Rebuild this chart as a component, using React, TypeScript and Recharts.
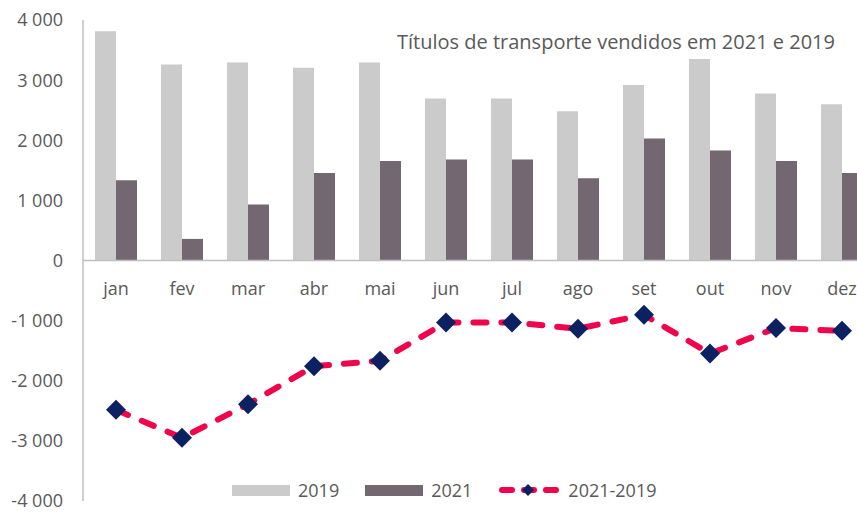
import React from "react";
import {
  ComposedChart,
  Bar,
  Line,
  XAxis,
  YAxis,
  ReferenceLine,
  Legend,
} from "recharts";

const months = ["jan", "fev", "mar", "abr", "mai", "jun", "jul", "ago", "set", "out", "nov", "dez"];
const sales2019 = [3813, 3261, 3294, 3207, 3294, 2694, 2694, 2484, 2920, 3350, 2777, 2600];
const sales2021 = [1334, 359, 931, 1455, 1653, 1681, 1681, 1367, 2028, 1830, 1653, 1455];
const diff = [-2484, -2950, -2390, -1757, -1669, -1030, -1030, -1135, -904, -1548, -1124, -1170];
const yTicks = [-4000, -3000, -2000, -1000, 0, 1000, 2000, 3000, 4000];

const data = months.map((m, i) => ({
  month: m,
  y2019: sales2019[i],
  y2021: sales2021[i],
  diff: diff[i],
}));

const TEXT = "#595959";
const FONT = "'Open Sans', sans-serif";
const TOP = 20;
const BOTTOM = 11;
const XH = 1;
const H = 513;
const zeroY = (TOP + (H - BOTTOM - XH)) / 2;

const fmt = (v: number) => {
  const s = Math.abs(v).toString();
  const body = s.length > 3 ? s.slice(0, -3) + " " + s.slice(-3) : s;
  return (v < 0 ? "-" : "") + body;
};

// month labels sit under the zero line, not at the bottom of the plot
const MonthTick = (props: any) => {
  const { x, payload } = props;
  return (
    <text x={x} y={zeroY + 28} dy="0.355em" textAnchor="middle" fill={TEXT} fontSize={18} fontFamily={FONT}>
      {payload.value}
    </text>
  );
};

const Diamond = (props: any) => {
  const { cx, cy } = props;
  if (cx == null || cy == null) return null;
  const r = 10;
  return <polygon points={`${cx},${cy - r} ${cx + r},${cy} ${cx},${cy + r} ${cx - r},${cy}`} fill="#0B2161" />;
};

const LegendContent = (props: any) => {
  const items = props.payload || [];
  return (
    <div style={{ display: "flex", alignItems: "center", fontFamily: FONT, fontSize: 18, color: TEXT }}>
      {items.map((it: any) => {
        if (it.type === "line") {
          return (
            <div key={it.value} style={{ display: "flex", alignItems: "center" }}>
              <svg width={68} height={14}>
                <line x1={4} y1={7} x2={62} y2={7} stroke="#F0054D" strokeWidth={6} strokeLinecap="round" strokeDasharray="10 12" />
                <polygon points="30,1 36,7 30,13 24,7" fill="#0B2161" />
              </svg>
              <span style={{ marginLeft: 2 }}>{it.value}</span>
            </div>
          );
        }
        return (
          <div key={it.value} style={{ display: "flex", alignItems: "center", marginRight: 26 }}>
            <div style={{ width: 58, height: 11, background: it.color }} />
            <span style={{ marginLeft: 8 }}>{it.value}</span>
          </div>
        );
      })}
    </div>
  );
};

export default function App() {
  return (
    <div style={{ position: "absolute", left: 0, top: 0, width: 857, height: 513, overflow: "hidden", background: "#fff" }}>
      <ComposedChart
        width={900}
        height={H}
        data={data}
        margin={{ top: TOP, right: 25, bottom: BOTTOM, left: 0 }}
        barGap={0}
        barSize={21}
      >
        <XAxis dataKey="month" height={XH} axisLine={false} tickLine={false} tick={<MonthTick />} interval={0} />
        <YAxis
          domain={[-4000, 4000]}
          ticks={yTicks}
          interval={0}
          width={83}
          tickFormatter={fmt}
          axisLine={{ stroke: "#BFBFBF", strokeWidth: 1.5 }}
          tickLine={false}
          tickSize={0}
          tickMargin={20}
          tick={{ fill: TEXT, fontSize: 18, fontFamily: FONT }}
        />
        <ReferenceLine y={0} stroke="#BFBFBF" strokeWidth={1.5} />
        <Bar dataKey="y2019" name="2019" fill="#CBCBCB" isAnimationActive={false} />
        <Bar dataKey="y2021" name="2021" fill="#736772" isAnimationActive={false} />
        <Line
          dataKey="diff"
          name="2021-2019"
          type="linear"
          stroke="#F0054D"
          strokeWidth={6}
          strokeLinecap="round"
          strokeDasharray="13 15"
          dot={<Diamond />}
          activeDot={false}
          legendType="line"
          isAnimationActive={false}
        />
        <Legend
          verticalAlign="middle"
          align="center"
          content={<LegendContent />}
          wrapperStyle={{ left: 232, top: 478, width: 460, height: 24 }}
        />
      </ComposedChart>
      <div
        style={{
          position: "absolute",
          left: 397,
          top: 28,
          fontFamily: FONT,
          fontSize: 20,
          color: TEXT,
          whiteSpace: "nowrap",
        }}
      >
        Títulos de transporte vendidos em 2021 e 2019
      </div>
    </div>
  );
}
